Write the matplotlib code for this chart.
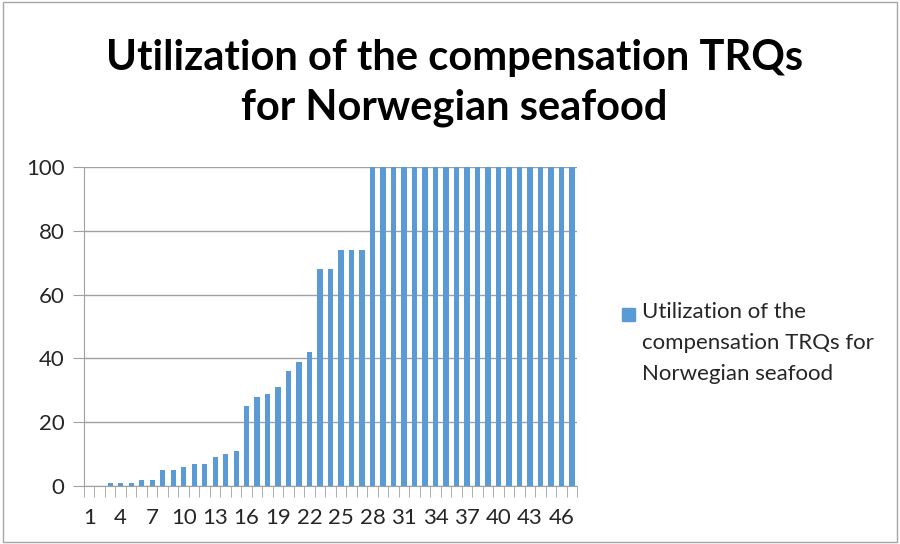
import matplotlib
matplotlib.use("Agg")
import matplotlib.pyplot as plt
from matplotlib.patches import Rectangle

# values (percent utilization per TRQ)
categories = list(range(1, 48))
utilization = [0, 0, 1, 1, 1, 2, 2, 5, 5, 6, 7, 7, 9, 10, 11, 25, 28, 29, 31, 36,
               39, 42, 68, 68, 74, 74, 74] + [100] * 20
tick_labels = [str(c) for c in categories[::3]]
series_name = "Utilization of the\ncompensation TRQs for\nNorwegian seafood"
title = "Utilization of the compensation TRQs\nfor Norwegian seafood"
bar_color = '#5b9bd5'

plt.rcParams['font.family'] = ['Lato', 'DejaVu Sans']

W, H = 900, 544
fig = plt.figure(figsize=(W / 100, H / 100), dpi=100)
ax = fig.add_axes([0.0933, 0.1066, 0.548, 0.586])

# grey chart border
fig.patches.append(Rectangle((0.003, 0.003), 0.994, 0.994, transform=fig.transFigure,
                             fill=False, edgecolor='#a6a6a6', linewidth=1))

ax.bar(categories, utilization, width=0.5, color=bar_color, zorder=3)

ax.set_xlim(0.5, len(categories) + 0.5)
ax.set_ylim(0, 100)
ax.set_yticks(range(0, 101, 20))
ax.yaxis.grid(True, color='#a0a0a0', linewidth=1)
ax.tick_params(axis='y', length=8, color='#a0a0a0', labelsize=16, labelcolor='#262626', pad=6)

ax.set_xticks(categories[::3])
ax.set_xticklabels(tick_labels)
ax.set_xticks([c + 0.5 for c in [0] + categories], minor=True)
ax.tick_params(axis='x', which='major', length=0, labelsize=16, labelcolor='#262626', pad=16)
ax.tick_params(axis='x', which='minor', length=8, color='#a0a0a0', direction='out')

for s in ['top', 'right']:
    ax.spines[s].set_visible(False)
ax.spines['left'].set_color('#a0a0a0')
ax.spines['bottom'].set_color('#a0a0a0')

fig.text(0.505, 1 - 83 / H, title, ha='center', va='center', fontsize=30, fontweight='bold',
         linespacing=1.4, color='black')

# legend: square key next to the first line of the series name
fig.patches.append(Rectangle((622 / W, 1 - 321 / H), 13 / W, 13 / H,
                             transform=fig.transFigure, color=bar_color))
fig.text(642 / W, 1 - 302 / H, series_name, ha='left', va='top', fontsize=16,
         linespacing=1.68, color='#262626')

fig.savefig("out.png", dpi=100)
